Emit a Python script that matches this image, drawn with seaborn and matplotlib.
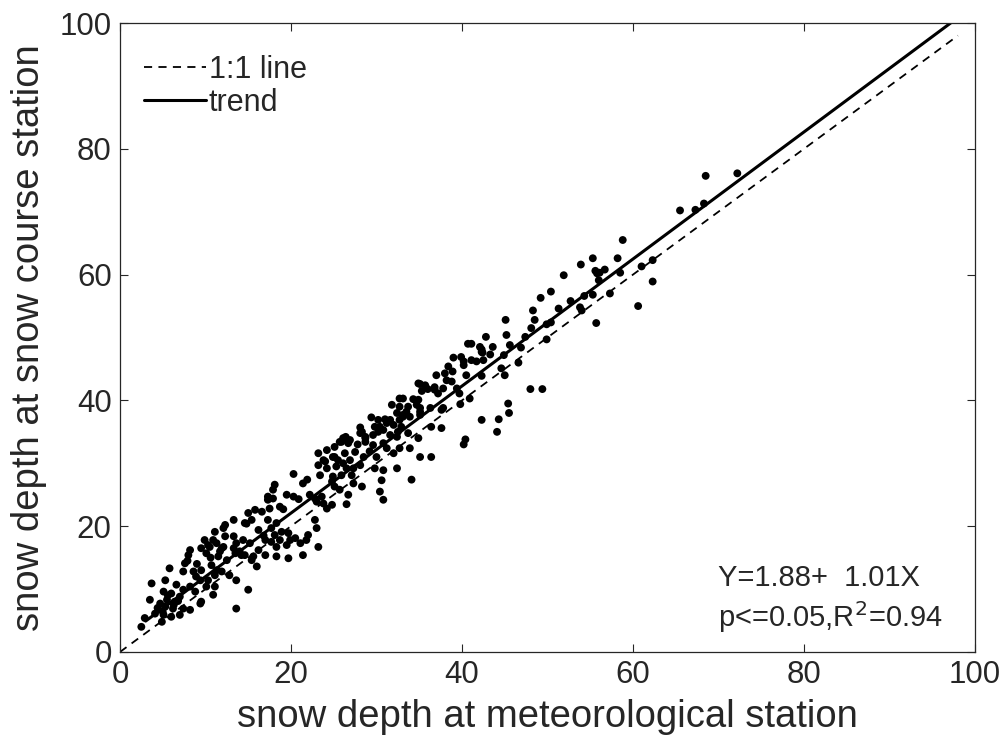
import matplotlib
matplotlib.use("Agg")
import matplotlib.pyplot as plt
import numpy as np
import pandas as pd
import seaborn as sns

# snow depth pairs (meteorological station vs snow course)
met_depth = [
    68.5, 72.2, 65.5, 67.3, 68.3, 58.8, 58.2, 56.7, 56.1, 58.5, 61.0, 62.3, 62.3, 60.6,
    55.3, 53.9, 55.6, 55.8, 56.0, 51.9, 50.4, 49.2, 51.3, 54.3, 55.3, 53.8, 54.0, 48.3,
    48.5, 45.1, 50.4, 49.9, 48.1, 55.7, 45.2, 47.4, 42.8, 45.6, 43.6, 42.1, 49.9, 42.3,
    40.7, 41.1, 42.3, 42.4, 39.0, 39.9, 40.2, 41.1, 41.7, 42.5, 40.2, 38.4, 44.9, 46.6,
    44.6, 45.0, 42.3, 40.5, 37.0, 38.0, 38.2, 38.8, 35.1, 35.7, 35.3, 36.8, 37.8, 39.4,
    39.7, 40.9, 39.8, 48.0, 49.4, 45.4, 45.5, 44.3, 37.6, 34.3, 33.1, 34.7, 35.1, 33.5,
    33.1, 40.4, 40.2, 42.3, 44.1,
    34.9, 36.8, 37.2, 32.7, 34.9, 31.8, 32.7, 33.7, 35.1, 36.3, 33.1, 33.9, 35.1, 32.4,
    32.7, 31.6, 37.8, 29.4, 30.2, 31.0, 31.2, 30.4, 29.8, 28.1, 28.3, 28.7, 29.6, 30.2,
    30.8, 32.0, 32.5, 32.9, 33.7, 31.6, 32.4, 26.4, 26.9, 25.9, 28.7, 29.6, 30.8, 31.2,
    32.7, 33.9, 34.9, 36.4, 37.6, 24.2, 24.9, 26.3, 27.5, 28.5, 30.0, 32.0, 35.1, 36.4,
    28.1, 28.7, 26.1, 25.7, 26.7, 25.1, 23.2, 23.8, 25.1, 25.5, 26.1, 26.9, 25.3, 26.5,
    27.3, 28.1, 29.8, 30.8, 32.4, 30.6, 23.2, 24.2, 23.4, 24.9, 25.9, 24.8, 25.1, 25.7,
    27.1, 27.3, 28.3, 20.3, 21.4, 18.1, 17.9, 17.3, 17.9, 19.5, 20.3, 22.2, 22.8, 23.6,
    23.8, 24.8, 26.5, 26.7, 30.4, 30.8, 18.7, 17.5,
    24.0, 17.3, 24.2, 23.0, 22.8, 23.0, 22.0, 23.2, 21.4, 15.0, 15.8, 16.6, 15.4, 14.6,
    13.3, 12.3, 12.1, 11.1, 9.9, 10.9, 13.3, 16.2, 17.3, 17.7, 18.3, 18.9, 18.1, 17.0,
    17.7, 18.7, 19.7, 19.9, 20.5, 19.5, 18.3, 16.2, 15.2, 14.4, 13.6, 13.3, 12.1, 11.7,
    10.5, 10.1, 14.2, 15.6, 17.0, 18.3, 19.7, 21.8, 21.1,
    14.8, 12.3, 8.2, 8.0, 9.5, 10.3, 11.3, 11.9, 11.5, 12.5, 13.5, 14.0, 14.6, 15.4,
    16.0, 5.8, 7.6, 7.4, 8.6, 9.5, 10.7, 11.3, 11.9, 11.1, 10.3, 9.4, 10.1, 11.1, 10.9,
    9.5, 8.8, 8.2, 7.4, 6.6, 5.3, 3.7, 5.1, 6.0, 7.0, 6.4, 5.5, 4.7, 3.5, 5.3, 6.2, 7.4,
    8.2, 4.1, 5.1, 6.0, 7.0, 4.9, 2.9, 2.5, 9.4, 13.6, 13.6, 15.0,
    4.4, 5.6, 6.8, 8.9, 7.9, 6.3, 5.0, 9.0, 10.6, 12.8, 16.8, 19.1, 20.9, 21.9, 27.8,
    29.2, 34.1, 36.0, 38.9, 43.3, 46.9, 52.7, 57.3,
]
course_depth = [
    75.7, 76.1, 70.2, 70.3, 71.3, 65.5, 62.6, 60.8, 60.3, 60.3, 61.3, 62.3, 58.9, 55.0,
    62.6, 61.6, 60.6, 60.2, 59.1, 59.9, 57.3, 56.3, 54.6, 56.6, 56.8, 54.8, 54.3, 54.3,
    52.8, 52.8, 52.4, 52.1, 51.5, 52.3, 50.4, 50.1, 50.1, 48.8, 48.5, 48.5, 49.7, 47.7,
    49.0, 49.0, 48.1, 47.6, 46.8, 46.9, 46.2, 46.4, 46.2, 46.4, 45.6, 45.4, 47.2, 46.0,
    45.1, 44.0, 43.9, 44.0, 44.0, 44.3, 43.2, 43.0, 42.6, 42.4, 41.5, 42.1, 41.9, 41.9,
    41.1, 40.3, 39.4, 41.8, 41.8, 39.5, 38.0, 37.0, 38.5, 40.2, 40.3, 39.3, 38.2, 38.2,
    37.4, 33.8, 33.0, 36.9, 35.0,
    42.7, 41.7, 41.1, 40.3, 40.1, 39.3, 39.0, 39.0, 38.8, 38.8, 37.7, 37.4, 37.7, 38.0,
    36.9, 36.9, 38.8, 37.3, 36.9, 37.0, 36.4, 35.8, 35.8, 35.7, 35.0, 34.2, 34.5, 35.0,
    35.3, 36.1, 35.0, 35.8, 34.8, 34.5, 34.2, 34.2, 33.7, 33.4, 33.4, 32.9, 33.2, 32.4,
    32.4, 32.4, 34.0, 35.8, 35.6, 32.1, 31.0, 31.6, 31.8, 31.0, 31.0, 31.6, 31.0, 31.0,
    34.8, 34.0, 34.0, 33.4, 33.2, 32.6, 31.6, 30.5, 31.0, 30.5, 30.0, 30.5, 29.5, 29.2,
    29.2, 29.7, 29.2, 28.9, 29.2, 27.3, 29.7, 29.2, 28.1, 27.9, 28.1, 27.1, 26.3, 25.8,
    28.1, 26.8, 26.3, 28.3, 26.8, 26.6, 25.8, 24.7, 24.4, 25.0, 24.7, 25.0, 24.4, 24.7,
    23.6, 23.4, 23.5, 25.0, 25.5, 24.2, 23.1, 22.8,
    30.3, 24.2, 22.8, 23.9, 21.0, 19.7, 18.6, 16.7, 15.4, 22.1, 22.6, 22.3, 21.0, 20.5,
    21.0, 20.2, 19.7, 19.1, 17.8, 17.8, 18.4, 19.4, 21.0, 19.7, 20.5, 19.1, 18.6, 17.8,
    17.5, 17.8, 18.9, 17.8, 18.1, 17.0, 16.7, 16.2, 17.3, 17.8, 17.3, 16.5, 16.7, 16.0,
    16.7, 15.7, 15.4, 15.2, 15.4, 15.2, 14.9, 17.8, 17.3,
    20.4, 18.4, 16.2, 15.4, 16.5, 17.0, 17.3, 16.5, 15.2, 14.6, 15.7, 16.0, 15.4, 14.6,
    13.6, 13.3, 14.1, 12.8, 12.8, 13.0, 13.8, 13.0, 12.8, 12.2, 11.4, 11.4, 10.4, 10.4,
    9.1, 8.0, 9.6, 10.4, 9.9, 10.7, 11.4, 10.9, 9.6, 9.3, 8.8, 8.0, 8.3, 7.7, 8.3, 7.2,
    6.9, 6.9, 6.7, 6.1, 5.9, 5.6, 5.9, 4.8, 5.4, 4.0, 7.7, 6.9, 11.4, 9.9,
    7.0, 9.0, 8.1, 12.0, 14.5, 7.5, 6.4, 14.0, 15.0, 12.2, 18.5, 22.7, 24.3, 27.4, 33.0,
    31.9, 27.4, 41.8, 44.6, 47.3, 48.4, 55.8, 57.0,
]

# regression and reference line values
trend_x = [3.0, 97.2]
trend_y = [1.88 + 1.01 * v for v in trend_x]
one_x = [0.0, 98.0]
one_y = [0.0, 98.0]

df = pd.DataFrame({"met": met_depth, "course": course_depth})

sns.set_style("ticks")
plt.rcParams["font.family"] = ["Liberation Sans", "DejaVu Sans"]

fig = plt.figure(figsize=(10.03, 7.47), dpi=100)
ax = fig.add_axes([0.1196, 0.1272, 0.8525, 0.842])

sns.lineplot(x=one_x, y=one_y, ax=ax, color="black", lw=1.3,
             linestyle=(0, (4.5, 3.5)), label="1:1 line")
sns.lineplot(x=trend_x, y=trend_y, ax=ax, color="black", lw=2.2, label="trend")
sns.scatterplot(data=df, x="met", y="course", ax=ax, color="black",
                s=32, edgecolor="none", zorder=3)

ax.set_xlim(0, 100)
ax.set_ylim(0, 100)
ax.set_xticks(range(0, 101, 20))
ax.set_yticks(range(0, 101, 20))
ax.tick_params(direction="in", top=True, right=True, length=6, width=0.8,
               labelsize=22.5, colors="#262626", pad=6)
for sp in ax.spines.values():
    sp.set_visible(True)
    sp.set_color("#262626")
    sp.set_linewidth(0.9)

ax.set_xlabel("snow depth at meteorological station", fontsize=27.5, color="#262626", labelpad=6)
ax.set_ylabel("snow depth at snow course station", fontsize=27.5, color="#262626", labelpad=9)

leg = ax.legend(loc="upper left", bbox_to_anchor=(0.0, 0.988), frameon=False, fontsize=22,
                handlelength=2.0, handletextpad=0.1, borderaxespad=0.4, labelspacing=0.1)

ax.text(70.0, 11.8, "Y=1.88+  1.01X", fontsize=21, va="center", ha="left")
ax.text(70.0, 5.6, "p<=0.05,R$^2$=0.94", fontsize=21, va="center", ha="left")

fig.savefig("out.png", dpi=100)
